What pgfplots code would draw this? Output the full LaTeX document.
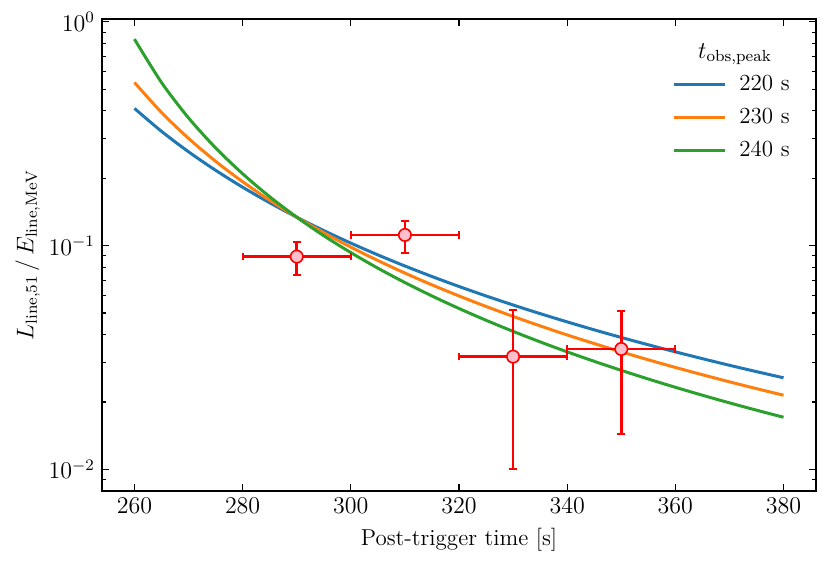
\documentclass[border=0pt]{standalone}
\usepackage{fontspec}
\usepackage{pgfplots}
\usepackage{pgfplotstable}
\pgfplotsset{compat=1.18}
\definecolor{tabblue}{HTML}{1F77B4}
\definecolor{taborange}{HTML}{FF7F0E}
\definecolor{tabgreen}{HTML}{2CA02C}
\definecolor{pinkfill}{RGB}{255,192,203}
\newcommand{\figfont}{\fontsize{11.5}{14}\selectfont}

\pgfplotstableread{
t y
260 0.4104
265 0.3242
270 0.2626
275 0.2171
280 0.1824
285 0.1554
290 0.1340
295 0.1167
300 0.1026
305 0.09088
310 0.08106
315 0.07275
320 0.06566
325 0.05956
330 0.05426
335 0.04965
340 0.04560
345 0.04202
350 0.03885
355 0.03603
360 0.03350
365 0.03123
370 0.02918
375 0.02733
380 0.02565
}\blue

\pgfplotstableread{
t y
260 0.5360
265 0.3938
270 0.3015
275 0.2382
280 0.1930
285 0.1595
290 0.1340
295 0.1142
300 0.09845
305 0.08576
310 0.07538
315 0.06677
320 0.05956
325 0.05345
330 0.04824
335 0.04376
340 0.03987
345 0.03648
350 0.03350
355 0.03087
360 0.02854
365 0.02647
370 0.02461
375 0.02294
380 0.02144
}\orange

\pgfplotstableread{
t y
260 0.8375
265 0.5360
270 0.3722
275 0.2735
280 0.2094
285 0.1654
290 0.1340
295 0.1107
300 0.09306
305 0.07929
310 0.06837
315 0.05956
320 0.05234
325 0.04637
330 0.04136
335 0.03712
340 0.03350
345 0.03039
350 0.02769
355 0.02533
360 0.02326
365 0.02144
370 0.01982
375 0.01838
380 0.01709
}\green

\pgfplotstableread{
t y ex eyp eym
290 0.0893 10 0.0147 0.0153
310 0.1116 10 0.0174 0.0191
330 0.0319 10 0.0197 0.0219
350 0.0345 10 0.0166 0.0201
}\obs

\begin{document}
\begin{tikzpicture}
\begin{axis}[
  scale only axis,
  width=357pt, height=236pt,
  xmin=254, xmax=386,
  ymin=0.0080, ymax=1.03,
  ymode=log,
  xtick={260,280,...,380},
  tick align=inside,
  xtick pos=both, ytick pos=both,
  major tick length=3.5pt,
  minor tick length=2pt,
  every tick/.style={black, line width=0.6pt},
  axis line style={line width=0.7pt},
  tick label style={font=\figfont},
  xlabel={Post-trigger time [s]},
  xlabel style={font=\figfont, at={(axis description cs:0.5,0)}, anchor=base, yshift=-27pt},
  ylabel={$L_{\rm line,51}\,/\,E_{\rm line,MeV}$},
  ylabel style={font=\figfont, at={(axis description cs:-0.104,0.5)}, anchor=center},
  legend cell align=left,
  legend style={draw=none, fill=none, at={(axis description cs:0.790,0.895)},
    anchor=north west, font=\figfont, row sep=5.3pt,
    nodes={inner sep=1pt}},
  legend image code/.code={\draw[#1, line width=1.5pt] (0pt,0pt) -- (25.5pt,0pt); \path (31pt,0pt);},
]
\addplot[tabblue, line width=1.5pt, smooth] table[x=t,y=y] {\blue};
\addlegendentry{220 s}
\addplot[taborange, line width=1.5pt, smooth] table[x=t,y=y] {\orange};
\addlegendentry{230 s}
\addplot[tabgreen, line width=1.5pt, smooth] table[x=t,y=y] {\green};
\addlegendentry{240 s}
\addplot[only marks, red, line width=1.3pt, mark=*, mark size=3.1pt,
  mark options={fill=pinkfill, draw=red, line width=0.8pt},
  error bars/.cd,
    x dir=both, x explicit,
    y dir=both, y explicit,
    error mark=|,
    error bar style={draw=red, line width=1.3pt},
    error mark options={draw=red, line width=1pt, mark size=1.9pt}]
  table[x=t, y=y, x error=ex, y error plus=eyp, y error minus=eym] {\obs};
\node[anchor=base, font=\figfont] at (axis description cs:0.8866,0.917) {$t_{\rm obs,peak}$};
\end{axis}
\pgfresetboundingbox
\path[use as bounding box] (-51pt,-38pt) rectangle (364.5pt,245.5pt);
\end{tikzpicture}
\end{document}
